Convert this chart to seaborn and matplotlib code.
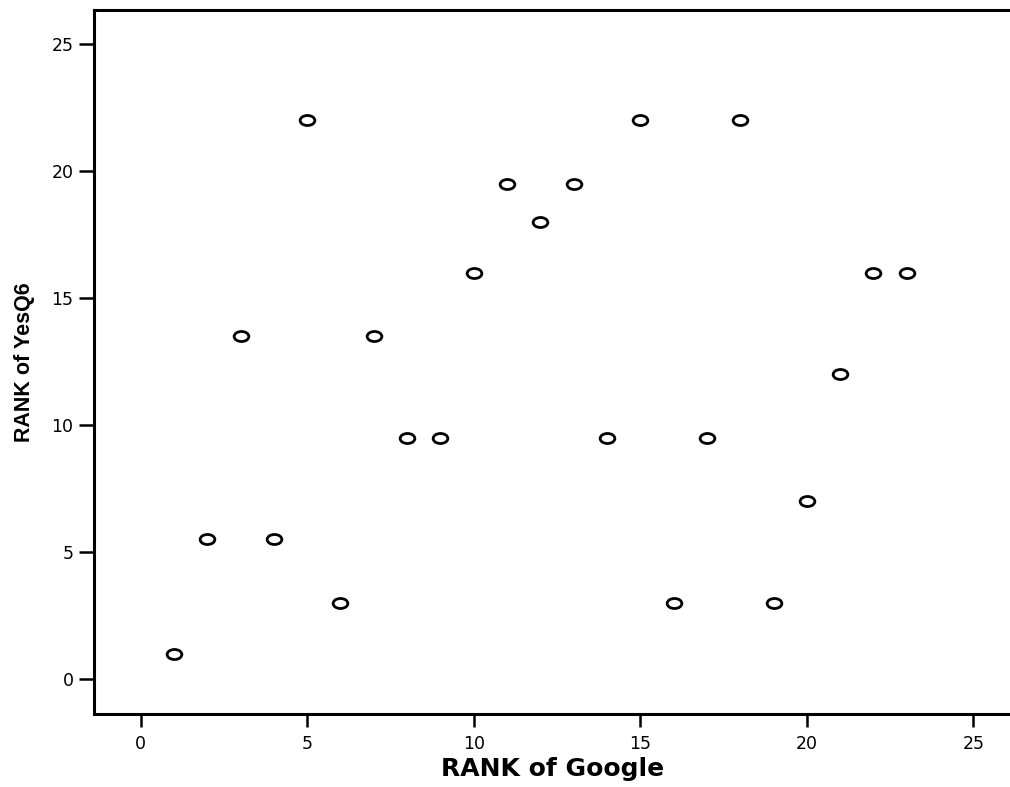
import matplotlib
matplotlib.use("Agg")
import matplotlib.pyplot as plt
import pandas as pd
import seaborn as sns
from matplotlib.path import Path
from matplotlib.transforms import Affine2D

# Ranks
rank_google = [1, 2, 3, 4, 5, 6, 7, 8, 9, 10, 11, 12,
               13, 14, 15, 16, 17, 18, 19, 20, 21, 22, 23]
rank_yesq6 = [1, 5.5, 13.5, 5.5, 22, 3, 13.5, 9.5, 9.5, 16, 19.5, 18,
              19.5, 9.5, 22, 3, 9.5, 22, 3, 7, 12, 16, 16]
tick_values = [0, 5, 10, 15, 20, 25]

df = pd.DataFrame({"RANK of Google": rank_google, "RANK of YesQ6": rank_yesq6})

sns.set_style("white")
plt.rcParams["font.family"] = ["DejaVu Sans"]

fig = plt.figure(figsize=(10.1, 7.87), dpi=100)
ax = fig.add_axes([0.0934, 0.0924, 1 - 0.0934, 0.8949])

# flattened circle like the SPSS marker
ellipse = Affine2D().scale(1.0, 0.68).transform_path(Path.unit_circle())

sns.scatterplot(
    data=df,
    x="RANK of Google",
    y="RANK of YesQ6",
    marker=ellipse,
    s=10.6 ** 2,
    facecolor="white",
    edgecolor="black",
    linewidth=2.0,
    ax=ax,
)

ax.set_xlim(-1.39, 26.1)
ax.set_ylim(-1.39, 26.35)
ax.set_xticks(tick_values)
ax.set_yticks(tick_values)

for side in ["left", "bottom", "top"]:
    ax.spines[side].set_visible(True)
    ax.spines[side].set_color("black")
    ax.spines[side].set_linewidth(2.2)
ax.spines["right"].set_visible(False)

ax.tick_params(axis="both", direction="out", colors="black", width=1.8,
               labelsize=12.5)
ax.tick_params(axis="y", length=11, pad=4, left=True)
ax.tick_params(axis="x", length=9, pad=6, bottom=True)

ax.set_xlabel("RANK of Google", fontsize=18, fontweight="bold",
              color="black", labelpad=3)
ax.set_ylabel("RANK of YesQ6", fontsize=15.5, fontweight="bold",
              color="black", labelpad=12, family="Liberation Sans")

fig.savefig("out.png", dpi=100)
